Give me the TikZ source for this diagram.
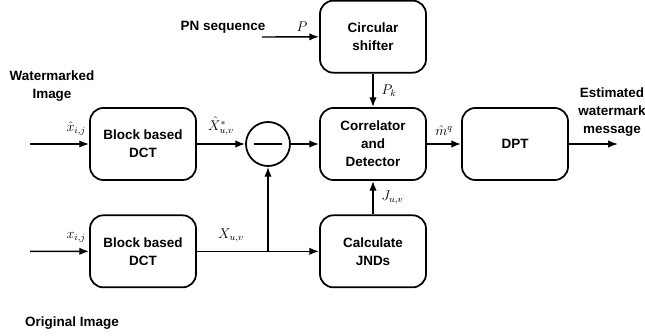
\documentclass[tikz,border=0pt]{standalone}
\usepackage{fontspec}
\setmainfont{Liberation Sans}
\usetikzlibrary{arrows.meta, shapes.geometric, positioning}

\begin{document}
\begin{tikzpicture}[
    ->, >=Latex, node distance=3.22cm, line width=1.2pt,
    every node/.style={align=center, font=\fontsize{11.5}{15.5}\selectfont\bfseries},
    block/.style={draw, rectangle, rounded corners=0.4cm, line width=1.5pt, minimum width=3.18cm, minimum height=2.16cm},
    lbl/.style={inner sep=1pt, font=\fontsize{12}{14}\selectfont}
]
\useasboundingbox (0,0) rectangle (19.35,10.05);
\node (dct_marked) [block] at (4.29,5.73) {Block based\\ DCT};
\node (diff) [circle, draw, line width=1.5pt, minimum size=1.32cm, right of=dct_marked, xshift=0.53cm] {};
\node (correlator) [block, right of=diff, xshift=-0.07cm] {Correlator\\ and\\ Detector};
\node (shifter) [block, above of=correlator] {Circular\\ shifter};
\node (jnds) [block, below of=correlator] {Calculate\\ JNDs};
\node (dct_orig) [block, below of=dct_marked] {Block based\\ DCT};
\node (dpt) [block, right of=correlator, xshift=1.04cm] {DPT};
\node (marked_txt) at (1.56,7.47) {Watermarked\\ Image};
\node (orig_txt) at (2.16,0.36) {Original Image};
\node (pn_txt) at (6.69,9.24) {PN sequence};
\node (est_txt) at (18.36,6.69) {Estimated\\ watermark\\ message};
\coordinate (in_marked) at (0.9,5.73);
\coordinate (in_orig) at (0.9,2.51);
\coordinate (in_pn) at (7.86,8.94);
\coordinate (out_dpt) at (18.54,5.73);
\coordinate (branch) at (diff |- dct_orig);
\draw[->] (in_marked) -- node[lbl, pos=0.78, above, yshift=0.2cm] {$\hat{x}_{i,j}$} (dct_marked);
\draw[->] (dct_marked) -- node[lbl, above, yshift=0.2cm] {$\hat{X}^{*}_{u,v}$} (diff);
\draw[-] ([xshift=-0.42cm]diff.center) -- ([xshift=0.42cm]diff.center);
\draw[->] (diff) -- (correlator);
\draw[->] (correlator) -- node[lbl, above, yshift=0.2cm] {$\hat{m}^{q}$} (dpt);
\draw[->] (dpt) -- (out_dpt);
\draw[->] (in_pn) -- node[lbl, pos=0.7, above, yshift=0.1cm] {$P$} (shifter);
\draw[->] (shifter) -- node[lbl, right, xshift=0.2cm] {$P_{k}$} (correlator);
\draw[->] (jnds) -- node[lbl, right, xshift=0.2cm] {$J_{u,v}$} (correlator);
\draw[->] (in_orig) -- node[lbl, pos=0.78, above, yshift=0.2cm] {$x_{i,j}$} (dct_orig);
\draw[->] (dct_orig) -- node[lbl, pos=0.28, above, yshift=0.2cm] {$X_{u,v}$} (jnds);
\draw[->] (branch) -- (diff);
\end{tikzpicture}
\end{document}
